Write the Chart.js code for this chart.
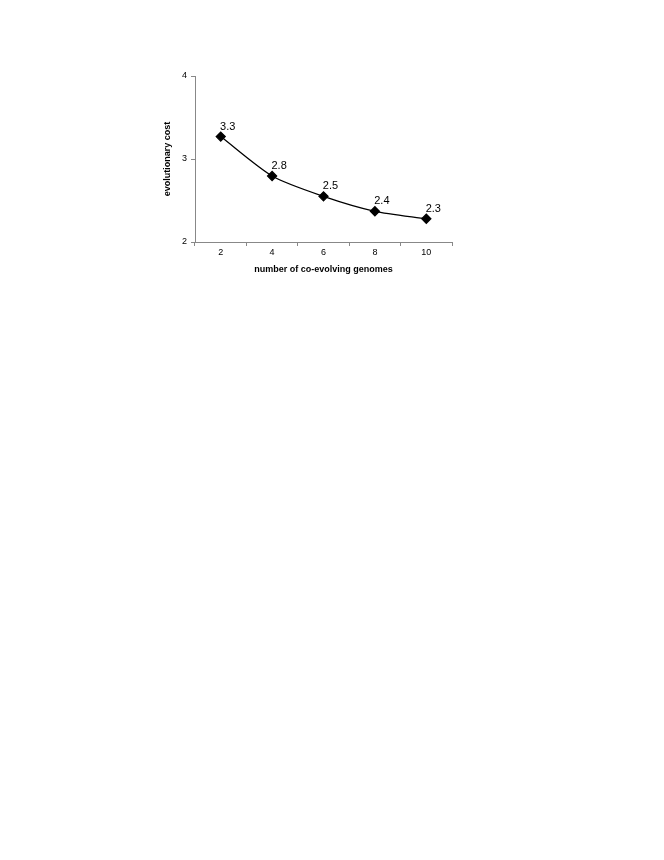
<!DOCTYPE html>
<html><head><meta charset="utf-8">
<script src="https://cdn.jsdelivr.net/npm/chart.js@4/dist/chart.umd.min.js"></script>
<style>html,body{margin:0;padding:0;background:#fff;width:664px;height:860px;overflow:hidden}
#wrap{position:absolute;left:0;top:0;width:664px;height:300px}</style>
</head><body>
<div id="wrap"><canvas id="c"></canvas></div>
<script>
const categories = ["2", "4", "6", "8", "10"];
const costValues = [3.27, 2.795, 2.55, 2.37, 2.28];
const valueLabels = ["3.3", "2.8", "2.5", "2.4", "2.3"];
const yTicks = [2, 3, 4];

const labelPlugin = {
  id: 'valLabels',
  afterDatasetsDraw(chart) {
    const ctx = chart.ctx;
    const meta = chart.getDatasetMeta(0);
    ctx.save();
    ctx.font = '11px "Liberation Sans", Arial, sans-serif';
    ctx.fillStyle = '#000';
    ctx.textAlign = 'center';
    ctx.textBaseline = 'middle';
    meta.data.forEach((p, i) => {
      ctx.fillText(valueLabels[i], p.x + 7, p.y - 10);
    });
    ctx.restore();
  }
};

new Chart(document.getElementById('c'), {
  type: 'line',
  data: {
    labels: categories,
    datasets: [{
      data: costValues,
      borderColor: '#000',
      borderWidth: 1.3,
      backgroundColor: '#000',
      pointStyle: 'rectRot',
      pointRadius: 4.5,
      pointHoverRadius: 4.5,
      tension: 0.25,
      fill: false
    }]
  },
  options: {
    responsive: true,
    maintainAspectRatio: false,
    animation: false,
    devicePixelRatio: 1,
    layout: { padding: { left: 162, right: 212, top: 76, bottom: 25 } },
    plugins: { legend: { display: false }, tooltip: { enabled: false } },
    scales: {
      x: {
        type: 'category',
        offset: true,
        grid: { display: true, drawOnChartArea: false, drawTicks: true, tickLength: 4, offset: true, color: '#888' },
        border: { display: true, color: '#888', width: 1 },
        ticks: { color: '#000', font: { size: 9, family: '"Liberation Sans", Arial, sans-serif' }, padding: 1, maxRotation: 0 },
        title: { display: true, text: 'number of co-evolving genomes', color: '#000', font: { size: 9, weight: 'bold', family: '"Liberation Sans", Arial, sans-serif' }, padding: { top: 4, bottom: 0 } },
        afterFit(s) { s.height = 33; }
      },
      y: {
        min: 2, max: 4,
        afterBuildTicks(s) { s.ticks = yTicks.map(v => ({ value: v })); },
        grid: { display: true, drawOnChartArea: false, drawTicks: true, tickLength: 4, color: '#888' },
        border: { display: true, color: '#888', width: 1 },
        ticks: { color: '#000', font: { size: 9, family: '"Liberation Sans", Arial, sans-serif' }, padding: 4 },
        title: { display: true, text: 'evolutionary cost', color: '#000', font: { size: 9, weight: 'bold', family: '"Liberation Sans", Arial, sans-serif' }, padding: { top: 0, bottom: 4 } },
        afterFit(s) { s.width = 33; }
      }
    }
  },
  plugins: [labelPlugin]
});
</script>
</body></html>
